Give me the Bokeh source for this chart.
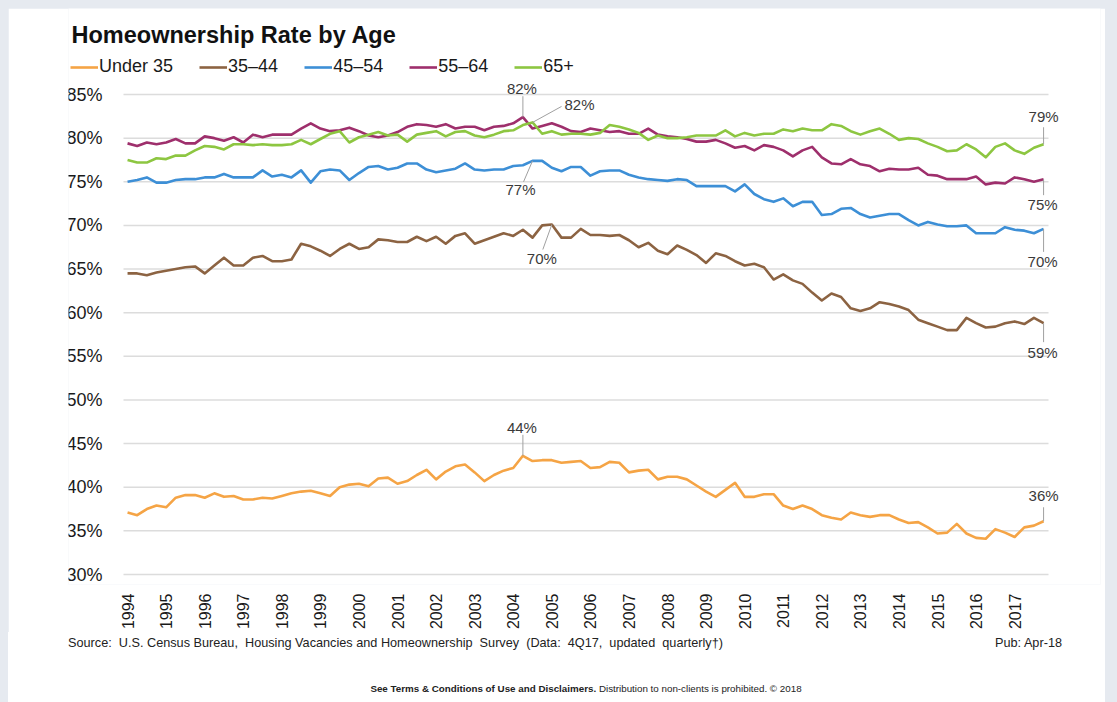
import math
from bokeh.plotting import figure
from bokeh.layouts import column
from bokeh.models import (Range1d, FixedTicker, PrintfTickFormatter, Legend, LegendItem,
                          Label, LabelSet, ColumnDataSource, GlobalInlineStyleSheet, Div)
from bokeh.core.properties import value
from bokeh.embed import file_html
from bokeh.resources import INLINE

# ---------------- data (quarterly, 1994Q1 .. 2017Q4) ----------------
first_year = 1994
last_year = 2017
year_ticks = list(range(first_year, last_year + 1))
year_labels = [str(y) for y in year_ticks]
y_ticks = [30, 35, 40, 45, 50, 55, 60, 65, 70, 75, 80, 85]

series_names = ["Under 35", "35\u201344", "45\u201354", "55\u201364", "65+"]
series_colors = ["#F5A445", "#8C6342", "#3D8FD6", "#9E2F6C", "#8DC641"]

under_35 = [
    37.1, 36.8, 37.5, 37.9, 37.7, 38.8, 39.1, 39.1, 38.8, 39.3, 38.9, 39.0,
    38.6, 38.6, 38.8, 38.7, 39.0, 39.3, 39.5, 39.6, 39.3, 39.0, 40.0, 40.3,
    40.4, 40.1, 41.0, 41.1, 40.4, 40.7, 41.4, 42.0, 40.9, 41.8, 42.4, 42.6,
    41.7, 40.7, 41.4, 41.9, 42.2, 43.6, 43.0, 43.1, 43.1, 42.8, 42.9, 43.0,
    42.2, 42.3, 42.9, 42.8, 41.7, 41.9, 42.0, 40.9, 41.2, 41.2, 40.9, 40.2,
    39.5, 38.9, 39.7, 40.5, 38.9, 38.9, 39.2, 39.2, 37.9, 37.5, 37.9, 37.5,
    36.8, 36.5, 36.3, 37.1, 36.8, 36.6, 36.8, 36.8, 36.3, 35.9, 36.0, 35.4,
    34.7, 34.8, 35.8, 34.7, 34.2, 34.1, 35.2, 34.8, 34.3, 35.4, 35.6, 36.1,
]
age_35_44 = [
    64.5, 64.5, 64.3, 64.6, 64.8, 65.0, 65.2, 65.3, 64.5, 65.4, 66.3, 65.4,
    65.4, 66.3, 66.5, 65.9, 65.9, 66.1, 67.9, 67.6, 67.1, 66.5, 67.3, 67.9,
    67.3, 67.5, 68.4, 68.3, 68.1, 68.1, 68.7, 68.2, 68.7, 67.9, 68.8, 69.1,
    67.9, 68.3, 68.7, 69.1, 68.8, 69.5, 68.6, 70.0, 70.1, 68.6, 68.6, 69.6,
    68.9, 68.9, 68.8, 68.9, 68.3, 67.5, 68.0, 67.1, 66.7, 67.7, 67.2, 66.6,
    65.7, 66.8, 66.5, 65.9, 65.4, 65.6, 65.2, 63.8, 64.4, 63.7, 63.3, 62.3,
    61.4, 62.2, 61.8, 60.5, 60.2, 60.5, 61.2, 61.0, 60.7, 60.3, 59.2, 58.8,
    58.4, 58.0, 58.0, 59.4, 58.8, 58.3, 58.4, 58.8, 59.0, 58.7, 59.4, 58.8,
]
age_45_54 = [
    75.0, 75.2, 75.5, 74.9, 74.9, 75.2, 75.3, 75.3, 75.5, 75.5, 75.9, 75.5,
    75.5, 75.5, 76.3, 75.6, 75.8, 75.5, 76.3, 74.9, 76.2, 76.4, 76.3, 75.2,
    76.0, 76.7, 76.8, 76.4, 76.6, 77.1, 77.1, 76.4, 76.1, 76.3, 76.5, 77.1,
    76.4, 76.3, 76.4, 76.4, 76.8, 76.9, 77.4, 77.4, 76.6, 76.2, 76.7, 76.7,
    75.7, 76.2, 76.3, 76.3, 75.8, 75.5, 75.3, 75.2, 75.1, 75.3, 75.2, 74.5,
    74.5, 74.5, 74.5, 73.9, 74.7, 73.6, 73.0, 72.7, 73.1, 72.2, 72.7, 72.7,
    71.2, 71.3, 71.9, 72.0, 71.3, 70.9, 71.1, 71.3, 71.3, 70.6, 70.0, 70.4,
    70.1, 69.9, 69.9, 70.0, 69.1, 69.1, 69.1, 69.8, 69.5, 69.4, 69.1, 69.6,
]
age_55_64 = [
    79.4, 79.1, 79.5, 79.3, 79.5, 79.9, 79.4, 79.4, 80.2, 80.0, 79.7, 80.1,
    79.5, 80.4, 80.1, 80.4, 80.4, 80.4, 81.1, 81.7, 81.1, 80.8, 80.9, 81.2,
    80.8, 80.3, 80.1, 80.3, 80.7, 81.3, 81.6, 81.5, 81.3, 81.6, 81.1, 81.3,
    81.3, 80.9, 81.3, 81.4, 81.7, 82.4, 81.1, 81.4, 81.7, 81.3, 80.8, 80.7,
    81.1, 80.9, 80.7, 80.8, 80.5, 80.5, 81.1, 80.4, 80.2, 80.1, 79.9, 79.6,
    79.6, 79.8, 79.4, 78.9, 79.1, 78.6, 79.2, 79.0, 78.6, 77.9, 78.6, 79.0,
    77.8, 77.1, 77.0, 77.6, 77.0, 76.8, 76.2, 76.5, 76.4, 76.4, 76.6, 75.8,
    75.7, 75.3, 75.3, 75.3, 75.6, 74.7, 74.9, 74.8, 75.5, 75.3, 75.0, 75.3,
]
age_65_plus = [
    77.5, 77.2, 77.2, 77.7, 77.6, 78.0, 78.0, 78.6, 79.1, 79.0, 78.7, 79.3,
    79.3, 79.2, 79.3, 79.2, 79.2, 79.3, 79.8, 79.3, 79.9, 80.5, 80.8, 79.5,
    80.1, 80.4, 80.7, 80.3, 80.4, 79.6, 80.4, 80.6, 80.8, 80.2, 80.7, 80.8,
    80.3, 80.1, 80.4, 80.8, 80.9, 81.5, 81.8, 80.5, 80.8, 80.4, 80.5, 80.5,
    80.4, 80.6, 81.5, 81.3, 81.0, 80.6, 79.8, 80.3, 80.0, 80.0, 80.1, 80.3,
    80.3, 80.3, 80.9, 80.2, 80.6, 80.3, 80.5, 80.5, 81.0, 80.8, 81.1, 80.9,
    80.9, 81.6, 81.4, 80.8, 80.4, 80.8, 81.1, 80.5, 79.8, 80.0, 79.9, 79.4,
    79.0, 78.5, 78.6, 79.3, 78.7, 77.8, 79.0, 79.4, 78.6, 78.2, 78.9, 79.3,
]

title_text = "Homeownership Rate by Age"
source_text = ("Source:  U.S. Census Bureau,  Housing Vacancies and Homeownership  Survey  "
               "(Data:  4Q17,  updated  quarterly\u2020)")
pub_text = "Pub: Apr-18"
footer_bold = "See Terms &amp; Conditions of Use and Disclaimers."
footer_rest = "Distribution to non-clients is prohibited. \u00a9 2018"

all_series = [under_35, age_35_44, age_45_54, age_55_64, age_65_plus]
n_q = len(under_35)
quarter_x = [first_year + i / 4 for i in range(n_q)]

# ---------------- layout (page px; page offset 8) ----------------
FONT = "Liberation Sans"
W = 1097
FIG_H, BOT_H = 624, 70
LEFT, RIGHT, TOP = 60, 5, 0
FRAME_BOTTOM_PAGE = 584
BOTTOM = FIG_H - (FRAME_BOTTOM_PAGE - 8)
FW = W - LEFT - RIGHT
FH = FIG_H - TOP - BOTTOM
FRAME_LEFT_PAGE = 8 + LEFT
FRAME_TOP_PAGE = 8 + TOP
PXX = 38.57           # px per year
PXY = 480 / 55        # px per percentage point
X_1994_PAGE = 127.05  # page x of 1994Q1
Y_85_PAGE = 94        # page y of the 85% gridline
X0 = first_year - (X_1994_PAGE - FRAME_LEFT_PAGE) / PXX
X1 = X0 + FW / PXX
Y1 = 85 + (Y_85_PAGE - FRAME_TOP_PAGE) / PXY
Y0 = Y1 - FH / PXY


def X(page_x):
    return X0 + (page_x - FRAME_LEFT_PAGE) / PXX


def Y(page_y):
    return Y1 - (page_y - FRAME_TOP_PAGE) / PXY


fig = figure(width=W, height=FIG_H, x_range=Range1d(X0, X1), y_range=Range1d(Y0, Y1),
             output_backend="svg", toolbar_location=None,
             min_border_left=LEFT, min_border_right=RIGHT,
             min_border_top=TOP, min_border_bottom=BOTTOM)
fig.stylesheets = [GlobalInlineStyleSheet(
    css="html, body { background-color: #e6eaf0; } body { margin: 8px 8px 0 8px; }")]
fig.background_fill_color = "white"
fig.border_fill_color = "white"
fig.outline_line_color = None

# axes
fig.yaxis.fixed_location = X(123)
fig.yaxis.ticker = FixedTicker(ticks=y_ticks)
fig.yaxis.formatter = PrintfTickFormatter(format="%d%%")
fig.yaxis.major_label_text_font = FONT
fig.yaxis.major_label_text_font_size = "18px"
fig.yaxis.major_label_text_color = "#1a1a1a"
fig.yaxis.major_label_standoff = 15
fig.xaxis.ticker = FixedTicker(ticks=year_ticks)
fig.xaxis.major_label_overrides = dict(zip(year_ticks, year_labels))
fig.xaxis.major_label_orientation = math.pi / 2
fig.xaxis.major_label_text_font = FONT
fig.xaxis.major_label_text_font_size = "16px"
fig.xaxis.major_label_text_color = "#1a1a1a"
fig.xaxis.major_label_standoff = 3
for ax in (fig.xaxis, fig.yaxis):
    ax.axis_line_color = None
    ax.major_tick_line_color = None
    ax.minor_tick_line_color = None
fig.xgrid.grid_line_color = None
fig.ygrid.grid_line_color = None

# horizontal gridlines limited to the data span
gx0, gx1 = X(123), X(1048)
fig.segment(x0=[gx0] * len(y_ticks), x1=[gx1] * len(y_ticks), y0=y_ticks, y1=y_ticks,
            line_color="#dcdcdc", line_width=1.5)

# lines
renderers = []
for vals, col in zip(all_series, series_colors):
    r = fig.line(quarter_x, vals, line_color=col, line_width=2.6, line_join="round")
    renderers.append(r)

legend = Legend(items=[LegendItem(label=n, renderers=[r]) for n, r in zip(series_names, renderers)],
                orientation="horizontal",
                location=(70 - FRAME_LEFT_PAGE, FRAME_BOTTOM_PAGE - 77),
                label_text_font=FONT, label_text_font_size="18px", label_text_color="#1a1a1a",
                glyph_width=28, glyph_height=20, label_height=20, label_standoff=1, spacing=26,
                padding=0, margin=0, border_line_color=None, background_fill_alpha=0)
fig.add_layout(legend, "center")


# data labels with leader lines
def argmax(v):
    return max(range(len(v)), key=lambda i: v[i])


# (series, point index, leader dx, dy, text dx, dy, align) in px, dy up
callouts = [
    (3, argmax(age_55_64), 0, 21, -1, 29, "center"),
    (4, argmax(age_65_plus), 29, 16, 32, 18, "left"),
    (2, argmax(age_45_54), -9, -21, -12, -29, "center"),
    (1, argmax(age_35_44), -9, -25, -10, -34, "center"),
    (0, argmax(under_35), 0, 21, -1, 28, "center"),
    (4, n_q - 1, 0, 17, 0, 28, "center"),
    (3, n_q - 1, 0, -16, -1, -25, "center"),
    (2, n_q - 1, 0, -23, -1, -33, "center"),
    (1, n_q - 1, 0, -19, -1, -29, "center"),
    (0, n_q - 1, 0, 14, 0, 26, "center"),
]
lx0, ly0, lx1, ly1 = [], [], [], []
tx, ty, tt, ta = [], [], [], []
for s, i, ldx, ldy, tdx, tdy, al in callouts:
    xv, yv = quarter_x[i], all_series[s][i]
    lx0.append(xv); ly0.append(yv)
    lx1.append(xv + ldx / PXX); ly1.append(yv + ldy / PXY)
    tx.append(xv + tdx / PXX); ty.append(yv + tdy / PXY)
    tt.append(f"{round(yv)}%"); ta.append(al)

fig.segment(x0=lx0, y0=ly0, x1=lx1, y1=ly1, line_color="#a0a0a0", line_width=1)
lab_src = ColumnDataSource(dict(x=tx, y=ty, text=tt, align=ta))
fig.add_layout(LabelSet(x="x", y="y", text="text", source=lab_src, text_align="align",
                        text_baseline="middle", text_font=value(FONT), text_font_size="15px",
                        text_color="#3a3a3a"))

# title
fig.add_layout(Label(x=X(71), y=Y(34), text=title_text, text_font=FONT, text_font_size="23.5px",
                     text_font_style="bold", text_baseline="middle", text_color="#111111"))

# ---------------- source / footer ----------------
bot_html = (
    f'<div style="position:relative;width:{W}px;height:{BOT_H}px;font-family:\'{FONT}\';color:#222;">'
    f'<div style="position:absolute;left:60px;top:5px;line-height:1;white-space:pre;'
    f'font-size:12.7px;">{source_text}</div>'
    f'<div style="position:absolute;right:43px;top:5px;line-height:1;white-space:pre;'
    f'font-size:12.7px;">{pub_text}</div>'
    f'<div style="position:absolute;left:578px;top:52px;line-height:1;white-space:nowrap;'
    f'font-size:9.8px;transform:translateX(-50%);"><b>{footer_bold}</b> {footer_rest}</div>'
    '</div>'
)
bot_div = Div(text=bot_html, width=W, height=BOT_H, margin=0,
              styles={"background-color": "white"})

p = column(fig, bot_div, spacing=0)

open("out.html", "w").write(file_html(p, INLINE))
